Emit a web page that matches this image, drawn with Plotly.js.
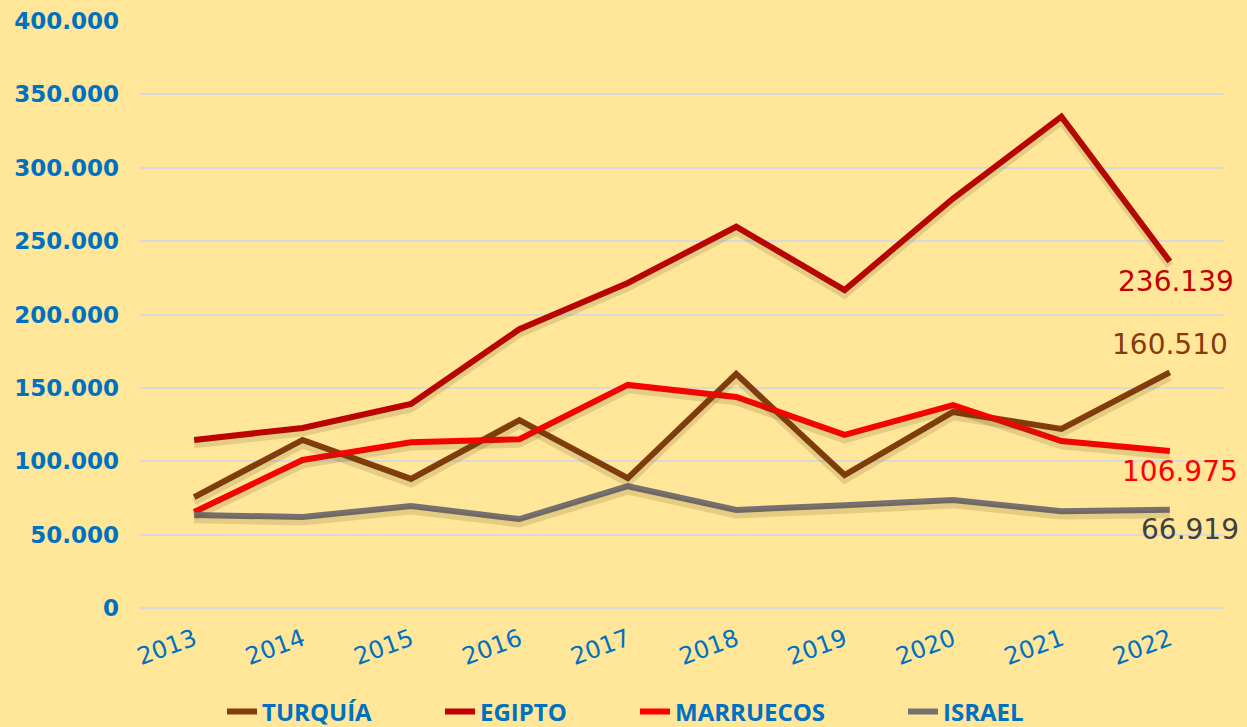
<!DOCTYPE html>
<html>
<head>
<meta charset="utf-8">
<script src="https://cdn.plot.ly/plotly-3.0.1.min.js"></script>
<style>html,body{margin:0;padding:0;background:#FFE699;}#chart{width:1247px;height:727px;}</style>
</head>
<body>
<div id="chart"></div>
<script>
const years = ["2013","2014","2015","2016","2017","2018","2019","2020","2021","2022"];
const turquia = [75600, 114500, 88000, 128000, 88500, 159500, 90600, 133600, 122000, 160510];
const egipto = [114500, 122700, 139000, 190000, 221500, 259800, 216700, 279000, 334800, 236139];
const marruecos = [65400, 100900, 113000, 115000, 152000, 143800, 118000, 138300, 113800, 106975];
const israel = [63400, 62000, 69500, 60600, 83000, 66800, 70000, 73600, 66000, 66919];
const names = ["TURQUÍA", "EGIPTO", "MARRUECOS", "ISRAEL"];
const endLabels = ["160.510", "236.139", "106.975", "66.919"];
const colors = ["#843C0C", "#C00000", "#FF0000", "#767171"];
const labelColors = ["#843C0C", "#C00000", "#FF0000", "#404040"];
const series = [turquia, egipto, marruecos, israel];
const labelShift = [[0, 28], [6, -20], [10, -20], [20, -20]];
const legendIds = ["legend", "legend2", "legend3", "legend4"];
const legendLeft = [222, 440, 635, 903];

const shadows = series.map((s, i) => ({
  x: years, y: s, type: "scatter", mode: "lines", showlegend: false, hoverinfo: "skip",
  line: {color: "rgba(90,70,20,0.16)", width: 8}, yaxis: "y2", xaxis: "x"
}));
const traces = series.map((s, i) => ({
  x: years, y: s, name: names[i], type: "scatter", mode: "lines", legend: legendIds[i],
  line: {color: colors[i], width: 6}
}));

const annotations = series.map((s, i) => ({
  x: years.length - 1, y: s[s.length - 1], xref: "x", yref: "y",
  text: endLabels[i], showarrow: false,
  xshift: labelShift[i][0], yshift: labelShift[i][1],
  font: {family: "DejaVu Sans", size: 28, color: labelColors[i]}
}));

const layout = {
  width: 1247, height: 727,
  paper_bgcolor: "#FFE699", plot_bgcolor: "#FFE699",
  margin: {l: 140, r: 23, t: 21, b: 119, autoexpand: false},
  separators: ",.",
  showlegend: true,
  xaxis: {type: "category", range: [-0.5, 9.5], showgrid: false, zeroline: false, showline: false,
    tickangle: -20, ticks: "", ticklabelstandoff: 12, tickfont: {family: "DejaVu Sans", size: 24, color: "#0070C0"}},
  yaxis: {range: [0, 400000], dtick: 50000, tickformat: ",d", gridcolor: "#D9D9D9", gridwidth: 2,
    zeroline: true, zerolinecolor: "#D9D9D9", zerolinewidth: 2, showline: false, ticks: "", ticklabelstandoff: 20,
    tickfont: {family: "DejaVu Sans", size: 23, color: "#0070C0", weight: 700}},
  yaxis2: {overlaying: "y", range: [3000, 403000], visible: false},
  annotations: annotations
};
legendIds.forEach((id, i) => {
  layout[id] = {orientation: "h", xref: "container", yref: "container", x: legendLeft[i] / 1247, xanchor: "left",
    y: 15 / 727, yanchor: "middle", bgcolor: "rgba(0,0,0,0)",
    font: {family: "Open Sans", size: 24, color: "#0070C0", weight: 700}};
});

Plotly.newPlot("chart", shadows.concat(traces), layout, {displayModeBar: false, staticPlot: true});
</script>
</body>
</html>
